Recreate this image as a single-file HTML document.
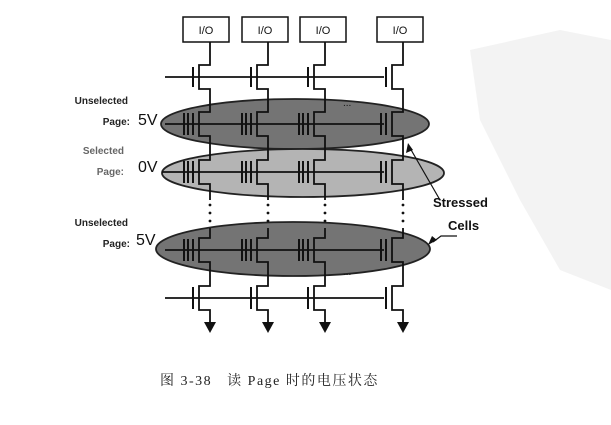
<!DOCTYPE html>
<html><head><meta charset="utf-8"><style>
body{margin:0;background:#fff}
svg{display:block}
</style></head><body>
<svg width="611" height="425" viewBox="0 0 611 425" xmlns="http://www.w3.org/2000/svg">
<polygon points="470,50 560,30 611,40 611,290 560,270 520,200 480,120" fill="#f3f3f3"/>
<g stroke="#111" fill="none" stroke-width="1.8">
<ellipse cx="295" cy="124" rx="134" ry="25" fill="#747474" stroke="#222"/>
<ellipse cx="303" cy="173" rx="141" ry="24" fill="#b4b4b4" stroke="#222"/>
<ellipse cx="293" cy="249" rx="137" ry="27" fill="#747474" stroke="#222"/>
</g>
<g font-family="Liberation Sans, sans-serif" font-size="11" text-anchor="middle" fill="#111">
<rect x="183" y="17" width="46" height="25" fill="#fff" stroke="#111" stroke-width="1.5"/>
<rect x="242" y="17" width="46" height="25" fill="#fff" stroke="#111" stroke-width="1.5"/>
<rect x="300" y="17" width="46" height="25" fill="#fff" stroke="#111" stroke-width="1.5"/>
<rect x="377" y="17" width="46" height="25" fill="#fff" stroke="#111" stroke-width="1.5"/>
<text x="206" y="34">I/O</text><text x="265" y="34">I/O</text><text x="323" y="34">I/O</text><text x="400" y="34">I/O</text>
</g>
<g stroke="#111" fill="none" stroke-width="1.8">
<line x1="165" y1="77" x2="384" y2="77"/>
<line x1="165" y1="124" x2="384" y2="124"/>
<line x1="162" y1="172" x2="384" y2="172"/>
<line x1="165" y1="250" x2="384" y2="250"/>
<line x1="165" y1="298" x2="384" y2="298"/>
<path d="M210 42 V65 H199 V89 H210 V112 H199 V136 H210 V160 H199 V184 H210 V200 M210 228 V238 H199 V262 H210 V286 H199 V310 H210 V322"/>
<path d="M268 42 V65 H257 V89 H268 V112 H257 V136 H268 V160 H257 V184 H268 V200 M268 228 V238 H257 V262 H268 V286 H257 V310 H268 V322"/>
<path d="M325 42 V65 H314 V89 H325 V112 H314 V136 H325 V160 H314 V184 H325 V200 M325 228 V238 H314 V262 H325 V286 H314 V310 H325 V322"/>
<path d="M403 42 V65 H392 V89 H403 V112 H392 V136 H403 V160 H392 V184 H403 V200 M403 228 V238 H392 V262 H403 V286 H392 V310 H403 V322"/>
<g stroke-width="2">
<path d="M193 67 V87 M251 67 V87 M308 67 V87 M386 67 V87"/>
<path d="M193 287 V309 M251 287 V309 M308 287 V309 M386 287 V309"/>
<path d="M193 113 V135 M188 113 V135 M184 113 V135 M251 113 V135 M246 113 V135 M242 113 V135 M308 113 V135 M303 113 V135 M299 113 V135 M386 113 V135 M381 113 V135"/>
<path d="M193 161 V183 M188 161 V183 M184 161 V183 M251 161 V183 M246 161 V183 M242 161 V183 M308 161 V183 M303 161 V183 M299 161 V183 M386 161 V183 M381 161 V183"/>
<path d="M193 239 V261 M188 239 V261 M184 239 V261 M251 239 V261 M246 239 V261 M242 239 V261 M308 239 V261 M303 239 V261 M299 239 V261 M386 239 V261 M381 239 V261"/>
</g>
<line x1="440" y1="200" x2="410" y2="148" stroke-width="1.2"/>
<polyline points="457,236 441,236 433,242" stroke-width="1.2"/>
</g>
<polygon points="408,143 406,153 413,150" fill="#111"/>
<polygon points="428,245 437,240 432,236" fill="#111"/>
<g fill="#111">
<circle cx="210" cy="205" r="1.4"/><circle cx="210" cy="213" r="1.4"/><circle cx="210" cy="221" r="1.4"/>
<circle cx="268" cy="205" r="1.4"/><circle cx="268" cy="213" r="1.4"/><circle cx="268" cy="221" r="1.4"/>
<circle cx="325" cy="205" r="1.4"/><circle cx="325" cy="213" r="1.4"/><circle cx="325" cy="221" r="1.4"/>
<circle cx="403" cy="205" r="1.4"/><circle cx="403" cy="213" r="1.4"/><circle cx="403" cy="221" r="1.4"/>
<text x="343" y="106" font-family="Liberation Sans,sans-serif" font-size="10">...</text>
<text x="343" y="275" font-family="Liberation Sans,sans-serif" font-size="10">...</text>
<polygon points="204,322 216,322 210,333"/><polygon points="262,322 274,322 268,333"/>
<polygon points="319,322 331,322 325,333"/><polygon points="397,322 409,322 403,333"/>
</g>
<g font-family="Liberation Sans, sans-serif" fill="#222" font-size="10" font-weight="bold" text-anchor="end">
<text x="128" y="104">Unselected</text><text x="130" y="125">Page:</text>
<text x="124" y="154" fill="#666">Selected</text><text x="124" y="175" fill="#666">Page:</text>
<text x="128" y="226">Unselected</text><text x="130" y="247">Page:</text>
</g>
<g font-family="Liberation Sans, sans-serif" fill="#111" font-size="16">
<text x="138" y="125">5V</text><text x="138" y="172">0V</text><text x="136" y="245">5V</text>
</g>
<g font-family="Liberation Sans, sans-serif" fill="#111" font-size="13" font-weight="bold">
<text x="433" y="207">Stressed</text><text x="448" y="230">Cells</text>
</g>
<text x="160" y="385" xml:space="preserve" font-family="Liberation Serif, 'Noto Serif CJK SC', serif" font-size="14" letter-spacing="1.5" fill="#222">图 3-38   读 Page 时的电压状态</text>
</svg>
</body></html>
